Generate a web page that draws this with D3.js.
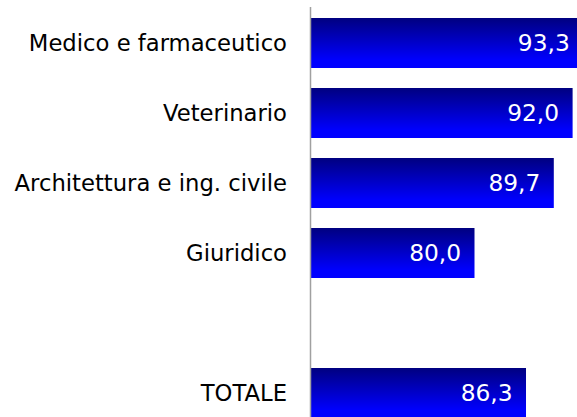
<!DOCTYPE html>
<html>
<head>
<meta charset="utf-8">
<script src="https://cdn.jsdelivr.net/npm/d3@7"></script>
<style>
  body { margin: 0; background: #fff; }
  svg { display: block; }
</style>
</head>
<body>
<script>
// chart data
const categories = ['Medico e farmaceutico', 'Veterinario', 'Architettura e ing. civile', 'Giuridico', '', 'TOTALE']
const values = [93.3, 92.0, 89.7, 80.0, null, 86.3]
const valueLabels = ['93,3', '92,0', '89,7', '80,0', '', '86,3']

const width = 577, height = 417
const axisX = 311

const svg = d3.select('body').append('svg')
  .attr('width', width)
  .attr('height', height)

const defs = svg.append('defs')
const grad = defs.append('linearGradient')
  .attr('id', 'barGrad')
  .attr('x1', 0).attr('y1', 0).attr('x2', 0).attr('y2', 1)
grad.append('stop').attr('offset', '0%').attr('stop-color', '#000080')
grad.append('stop').attr('offset', '85%').attr('stop-color', '#0000ff')
grad.append('stop').attr('offset', '100%').attr('stop-color', '#0000ff')

// x axis runs from 60 to 100, wider than the window
let x = d3.scaleLinear()
  .domain([60, 100])
  .range([axisX, axisX + 327])

let y = d3.scaleBand()
  .domain(categories.map((c, i) => i))
  .range([8, 428])
  .paddingInner(2 / 7)
  .paddingOuter(1 / 7)

let rows = categories.map((c, i) => ({ cat: c, v: values[i], lab: valueLabels[i], i: i }))
let barsData = rows.filter(d => d.v != null)

svg.selectAll('rect.bar')
  .data(barsData)
  .enter().append('rect')
  .attr('class', 'bar')
  .attr('x', x(60))
  .attr('y', d => y(d.i))
  .attr('width', d => x(d.v) - x(60))
  .attr('height', y.bandwidth())
  .attr('fill', 'url(#barGrad)')

svg.selectAll('text.val')
  .data(barsData)
  .enter().append('text')
  .attr('class', 'val')
  .attr('x', d => x(d.v) - 13.5)
  .attr('y', d => y(d.i) + y.bandwidth() / 2)
  .attr('dy', '0.36em')
  .attr('text-anchor', 'end')
  .attr('fill', '#fff')
  .attr('font-family', 'DejaVu Sans')
  .attr('font-size', 23.3)
  .text(d => d.lab)

svg.selectAll('text.cat')
  .data(barsData)
  .enter().append('text')
  .attr('class', 'cat')
  .attr('x', axisX - 24)
  .attr('y', d => y(d.i) + y.bandwidth() / 2)
  .attr('dy', '0.36em')
  .attr('text-anchor', 'end')
  .attr('fill', '#000')
  .attr('font-family', 'DejaVu Sans')
  .attr('font-size', 22.7)
  .text(d => d.cat)

// vertical axis line
svg.append('line')
  .attr('x1', axisX - 0.5).attr('x2', axisX - 0.5)
  .attr('y1', 7).attr('y2', height)
  .attr('stroke', '#a0a0a0')
  .attr('stroke-width', 1.5)
</script>
</body>
</html>
